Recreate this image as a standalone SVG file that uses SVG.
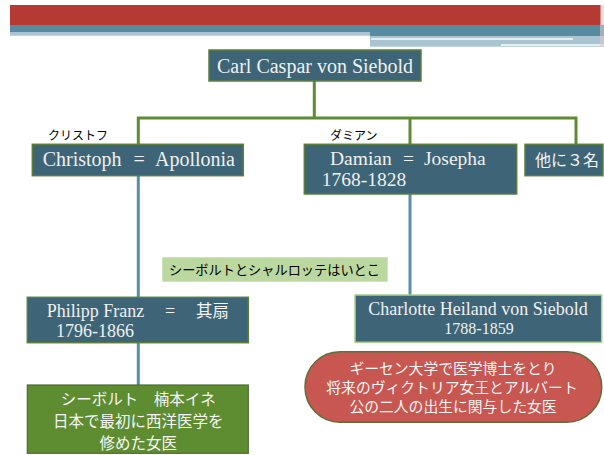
<svg xmlns="http://www.w3.org/2000/svg" width="604" height="455" viewBox="0 0 604 455">
<style>
.node{fill:#3e6577;stroke:#5b7f3a;stroke-width:1.5}
.lat{font-family:"Liberation Serif","Times New Roman",serif;fill:#f0f0f0}
.jp{font-family:"Noto Sans CJK JP",sans-serif}
.jpw{font-family:"Noto Sans CJK JP",sans-serif;fill:#f5f5f5}
.gl{fill:none;stroke:#5f8b35;stroke-width:3}
.bl{fill:none;stroke:#5a8fa8;stroke-width:3}
</style>
<rect width="604" height="455" fill="#ffffff"/>
<g id="header">
<rect x="10" y="5" width="591" height="20" fill="#b53a33"/>
<rect x="10" y="25" width="594" height="7" fill="#568ba0"/>
<rect x="10" y="32" width="360" height="3.7" fill="#a9c5d1"/>
<rect x="370" y="32" width="234" height="4" fill="#568ba0"/>
<rect x="370" y="36" width="234" height="10.7" fill="#a9c5d1"/>
<rect x="371" y="38.3" width="202" height="1.4" fill="#ffffff"/>
<rect x="501" y="44.3" width="103" height="1.4" fill="#ffffff"/>
<rect x="600" y="5" width="4" height="42" fill="#d9c8c8" opacity="0.6"/>
</g>
<g id="connectors">
<polyline class="gl" points="314.3,81 314.3,118"/>
<polyline class="gl" points="138.3,145 138.3,118 576,118 576,145"/>
<polyline class="gl" points="410,118 410,145"/>
<line class="bl" x1="138.3" y1="176" x2="138.3" y2="298"/>
<line class="bl" x1="410" y1="194" x2="410" y2="295"/>
<line class="bl" x1="138.3" y1="343" x2="138.3" y2="385"/>
</g>
<g id="carl">
<rect class="node" x="209" y="50" width="212" height="31"/>
<text class="lat" x="315" y="73" font-size="20" text-anchor="middle">Carl Caspar von Siebold</text>
</g>
<g id="christoph">
<text class="jp" x="48" y="140" font-size="12" fill="#000">クリストフ</text>
<rect class="node" x="32.3" y="144.3" width="211" height="31.4"/>
<text class="lat" y="166" font-size="20"><tspan x="42.7">Christoph</tspan><tspan x="133.5">=</tspan><tspan x="155">Apollonia</tspan></text>
</g>
<g id="damian">
<text class="jp" x="330" y="140" font-size="12" fill="#000">ダミアン</text>
<rect class="node" x="304.3" y="144.3" width="212.4" height="49.7"/>
<text class="lat" font-size="19.5"><tspan x="330" y="165">Damian</tspan><tspan x="403">=</tspan><tspan x="424">Josepha</tspan><tspan x="321.7" y="186">1768-1828</tspan></text>
</g>
<g id="others">
<rect class="node" x="525" y="144.3" width="78" height="31.4"/>
<text class="jpw" x="535" y="166" font-size="16">他に３名</text>
</g>
<g id="cousin-note">
<rect x="162.3" y="257.3" width="225.4" height="24.4" fill="#bad89f"/>
<text class="jp" x="169" y="275" font-size="13.2" fill="#000">シーボルトとシャルロッテはいとこ</text>
</g>
<g id="philipp">
<rect class="node" x="27.3" y="297.3" width="221" height="45.4"/>
<text class="lat" y="317" font-size="18"><tspan x="46.7">Philipp Franz</tspan><tspan x="165">=</tspan></text>
<text class="jpw" x="196" y="317" font-size="16.5">其扇</text>
<text class="lat" x="56" y="337" font-size="18">1796-1866</text>
</g>
<g id="charlotte">
<rect x="355" y="295" width="246.7" height="47.3" fill="#3e6577" stroke="#a9d18e" stroke-width="1.5"/>
<text class="lat" x="478" y="314.5" font-size="18" text-anchor="middle">Charlotte Heiland von Siebold</text>
<text class="lat" x="479" y="334" font-size="16" text-anchor="middle">1788-1859</text>
</g>
<g id="charlotte-note">
<rect x="305" y="351.7" width="296.7" height="70.6" rx="35" ry="35" fill="#c95751" stroke="#5d6f38" stroke-width="1.5"/>
<text class="jpw" font-size="14.8" text-anchor="middle"><tspan x="453" y="373.5">ギーセン大学で医学博士をとり</tspan><tspan x="452" y="393">将来のヴィクトリア女王とアルバート</tspan><tspan x="453" y="412">公の二人の出生に関与した女医</tspan></text>
</g>
<g id="ine">
<rect x="27.3" y="385" width="221" height="68.3" fill="#5e8c31" stroke="#4f6b35" stroke-width="1.2"/>
<text class="jpw" font-size="15.5" text-anchor="middle"><tspan x="138.3" y="405">シーボルト　楠本イネ</tspan><tspan x="138.3" y="427">日本で最初に西洋医学を</tspan><tspan x="138.3" y="449">修めた女医</tspan></text>
</g>
</svg>
